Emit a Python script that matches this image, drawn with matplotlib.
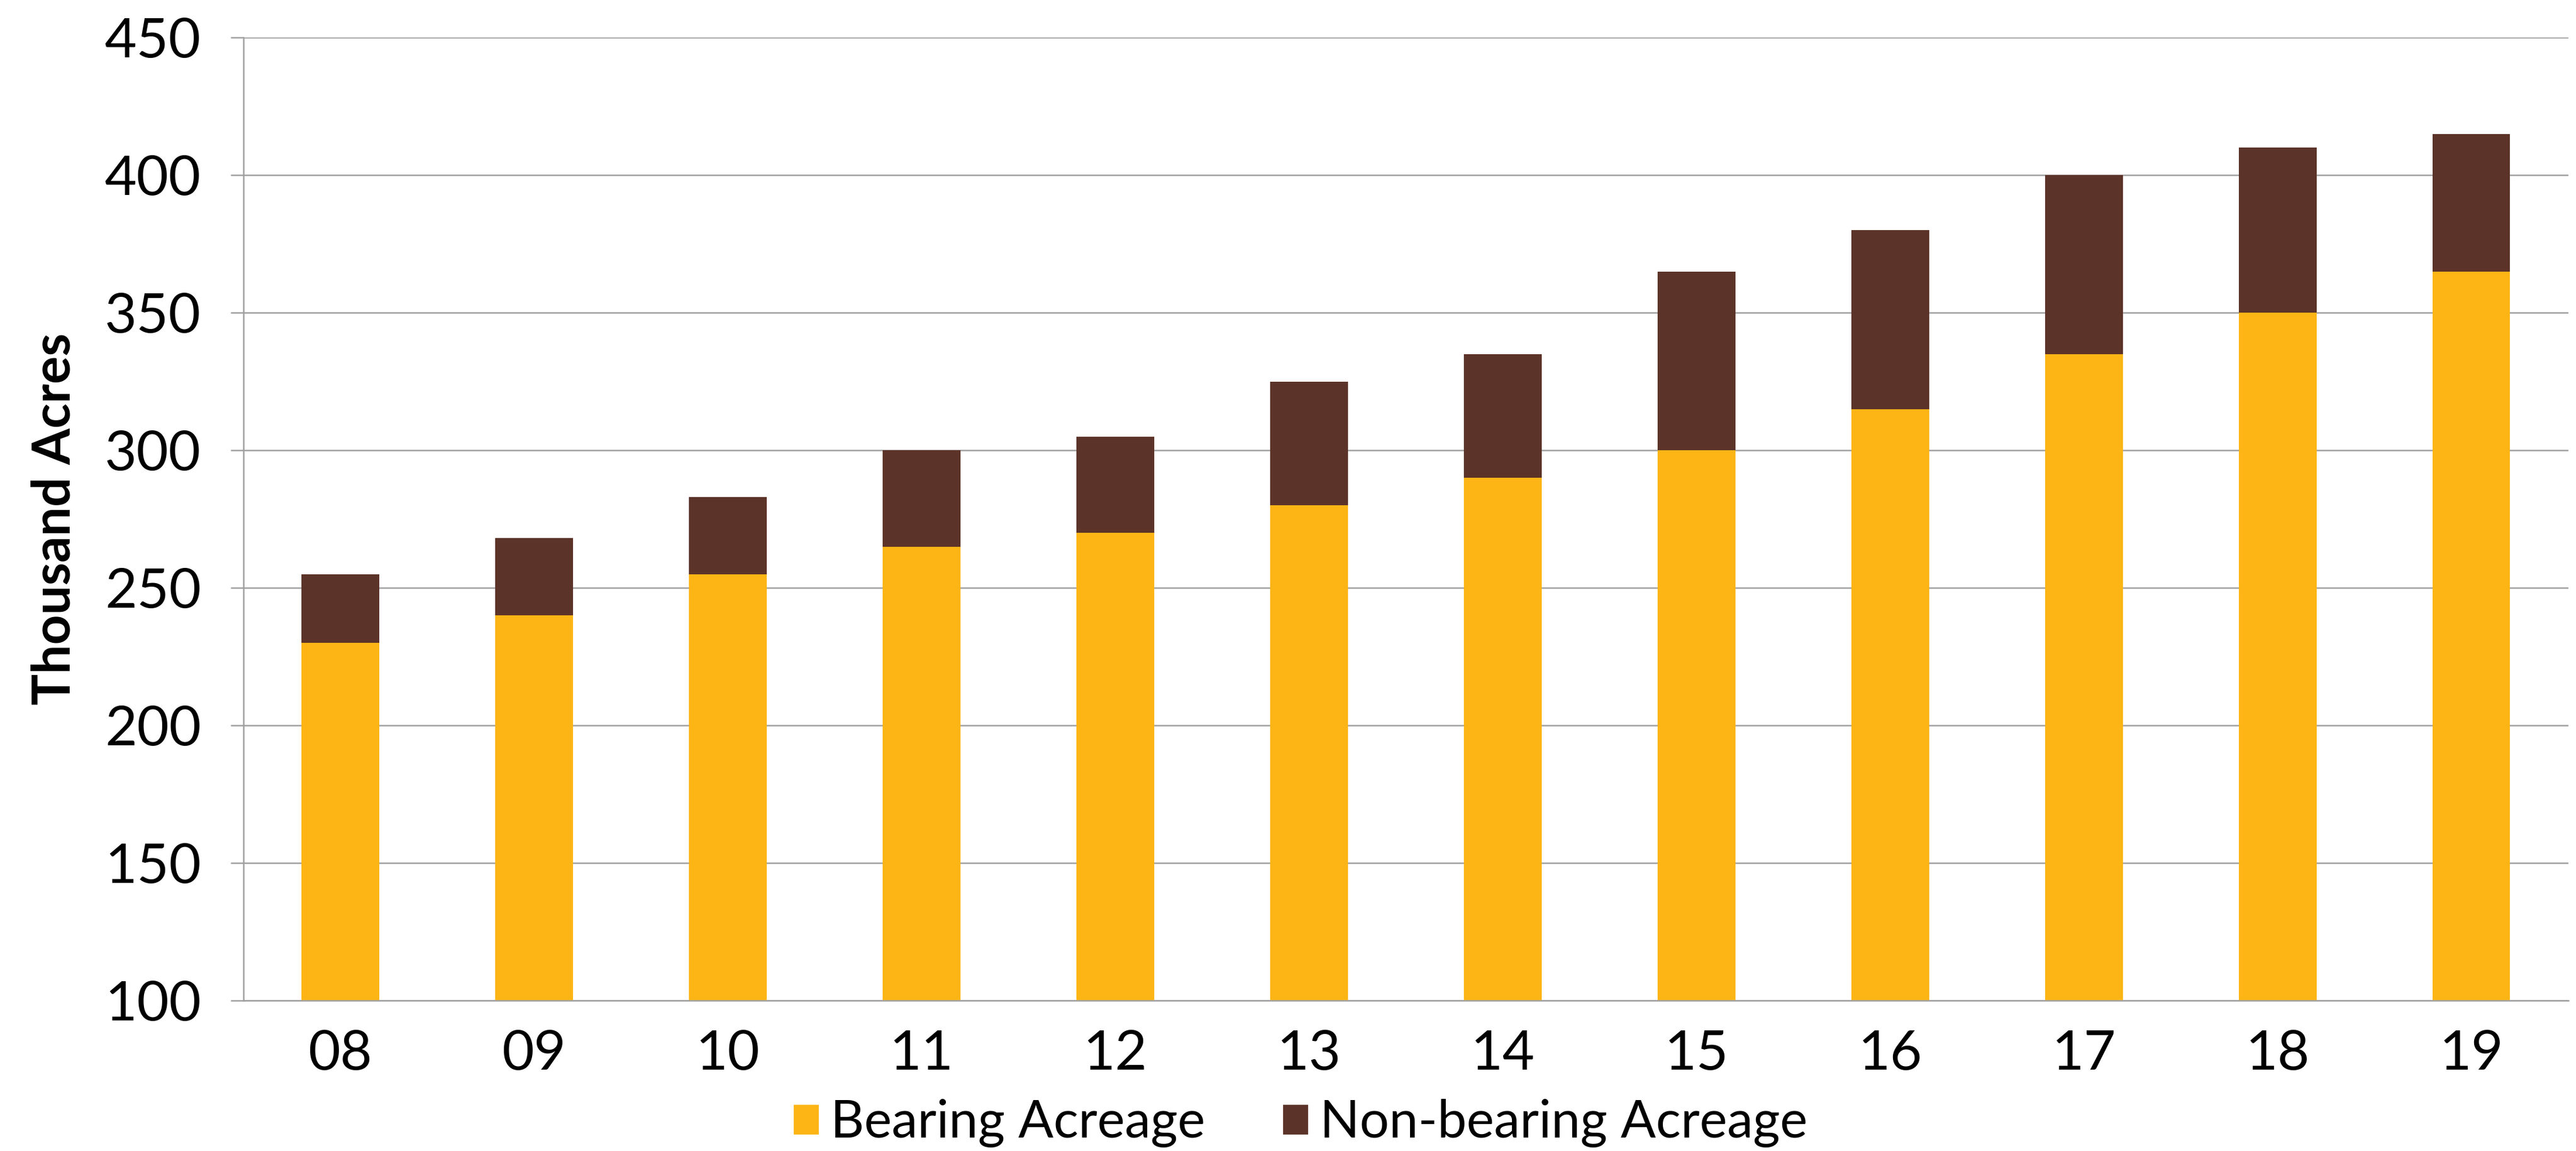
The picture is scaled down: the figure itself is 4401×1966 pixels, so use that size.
import matplotlib.pyplot as plt
from matplotlib.patches import Patch

years = ["08", "09", "10", "11", "12", "13", "14", "15", "16", "17", "18", "19"]
bearing = [230, 240, 255, 265, 270, 280, 290, 300, 315, 335, 350, 365]
total = [255, 268, 283, 300, 305, 325, 335, 365, 380, 400, 410, 415]
non_bearing = [t - b for t, b in zip(total, bearing)]

yellow = "#FDB515"
brown = "#5C3328"
grid_col = "#A0A0A0"

plt.rcParams["font.family"] = ["Lato", "DejaVu Sans"]

fig = plt.figure(figsize=(22.005, 9.83), dpi=200)
ax = fig.add_axes([0.0945, 0.1307, 0.9025, 0.8367])

x = range(len(years))
ax.bar(x, bearing, width=0.4, color=yellow, zorder=2)
ax.bar(x, non_bearing, bottom=bearing, width=0.4, color=brown, zorder=2)

ax.set_xlim(-0.5, len(years) - 0.5)
ax.set_ylim(100, 450)
ax.set_yticks(range(100, 451, 50))
ax.set_xticks(list(x))
ax.set_xticklabels(years)

ax.yaxis.grid(True, color=grid_col, linewidth=0.9, zorder=0)
for s in ["top", "right"]:
    ax.spines[s].set_visible(False)
for s in ["left", "bottom"]:
    ax.spines[s].set_color(grid_col)
    ax.spines[s].set_linewidth(0.9)

ax.tick_params(axis="y", length=8, width=0.9, color=grid_col, pad=18,
               labelsize=34, labelcolor="black")
ax.tick_params(axis="x", length=0, pad=18, labelsize=34, labelcolor="black")

ax.set_ylabel("Thousand Acres", fontsize=32, fontweight="bold", labelpad=16)

handles = [Patch(color=yellow, label="Bearing Acreage"),
           Patch(color=brown, label="Non-bearing Acreage")]
fig.legend(handles=handles, loc="center", bbox_to_anchor=(0.505, 0.024),
           ncol=2, frameon=False, fontsize=32, handlelength=0.45,
           handleheight=0.45, handletextpad=0.25, columnspacing=1.5)

fig.savefig("out.png", dpi=200)
